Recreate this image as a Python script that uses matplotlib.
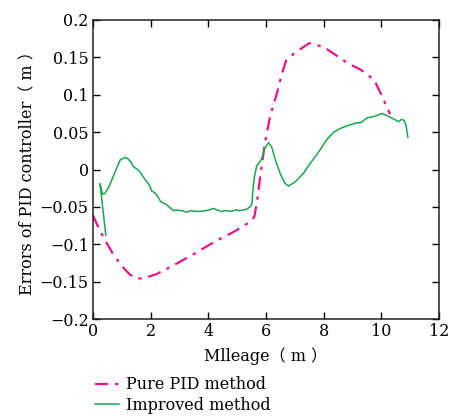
import numpy as np
import matplotlib.pyplot as plt

# Pure PID method
pid_x = [0.0, 0.2, 0.4, 0.7, 1.0, 1.3, 1.55, 1.8, 2.2, 2.8, 3.5, 4.2, 4.9, 5.45, 5.6, 5.7, 5.8, 5.97, 6.15, 6.38, 6.55, 6.7, 7.0, 7.5, 8.0, 8.8, 9.3, 9.75, 10.0, 10.3]
pid_y = [-0.061, -0.078, -0.093, -0.113, -0.129, -0.141, -0.146, -0.145, -0.140, -0.128, -0.113, -0.097, -0.083, -0.070, -0.063, -0.040, -0.010, 0.037, 0.072, 0.102, 0.128, 0.146, 0.156, 0.169, 0.164, 0.143, 0.133, 0.120, 0.100, 0.074]

# Improved method
imp_x = [0.45, 0.25, 0.3, 0.35, 0.42, 0.55, 0.7, 0.85, 0.95, 1.1, 1.2, 1.3, 1.4, 1.55, 1.65, 1.75, 1.86, 1.95, 2.05, 2.15, 2.25, 2.35, 2.45, 2.56, 2.7, 2.8, 2.9, 3.0, 3.1, 3.25, 3.4, 3.55, 3.72, 3.9, 4.05, 4.18, 4.3, 4.45, 4.64, 4.8, 4.95, 5.1, 5.33, 5.45, 5.52, 5.54, 5.6, 5.68, 5.75, 5.86, 5.95, 6.09, 6.2, 6.35, 6.49, 6.65, 6.78, 7.0, 7.3, 7.53, 7.8, 8.11, 8.35, 8.58, 8.85, 9.1, 9.3, 9.5, 9.75, 10.02, 10.2, 10.4, 10.6, 10.7, 10.78, 10.85, 10.92]
imp_y = [-0.088, -0.019, -0.028, -0.033, -0.032, -0.024, -0.010, 0.004, 0.013, 0.016, 0.015, 0.011, 0.004, 0.000, -0.004, -0.010, -0.016, -0.020, -0.029, -0.031, -0.036, -0.043, -0.045, -0.047, -0.052, -0.055, -0.054, -0.055, -0.055, -0.057, -0.055, -0.056, -0.056, -0.055, -0.054, -0.052, -0.054, -0.056, -0.055, -0.056, -0.054, -0.055, -0.053, -0.050, -0.045, -0.030, -0.010, 0.005, 0.008, 0.015, 0.028, 0.036, 0.030, 0.010, -0.005, -0.018, -0.022, -0.017, -0.005, 0.008, 0.022, 0.040, 0.050, 0.055, 0.059, 0.062, 0.063, 0.069, 0.071, 0.075, 0.072, 0.068, 0.064, 0.067, 0.066, 0.060, 0.043]

plt.rcParams['font.family'] = ['DejaVu Serif', 'Noto Sans CJK SC']
plt.rcParams['font.size'] = 11.5
plt.rcParams['axes.unicode_minus'] = True

fig = plt.figure(figsize=(4.55, 4.16), dpi=100)
ax = fig.add_axes([0.204, 0.233, 0.761, 0.719])

ax.plot(pid_x, pid_y, color='#e8138a', lw=1.6, dashes=(6, 3, 1.5, 3), label='Pure PID method')
ax.plot(imp_x, imp_y, color='#1aa64e', lw=1.1, label='Improved method')

ax.set_xlim(0, 12)
ax.set_ylim(-0.2, 0.2)
ax.set_xticks(np.arange(0, 13, 2))
ax.set_yticks([-0.2, -0.15, -0.1, -0.05, 0, 0.05, 0.1, 0.15, 0.2])
ax.set_yticklabels(['−0.2', '−0.15', '−0.1', '−0.05', '0', '0.05', '0.1', '0.15', '0.2'])
ax.tick_params(direction='in', top=True, right=True, length=5, width=1, pad=3)
for s in ax.spines.values():
    s.set_linewidth(1.1)
    s.set_color('#222222')

ax.set_xlabel('Mlleage（ m ）', labelpad=5)
ax.set_ylabel('Errors of PID controller（ m ）', labelpad=2)

ax.legend(loc='upper left', bbox_to_anchor=(-0.012, -0.17), frameon=False,
          handlelength=1.5, handletextpad=0.45, labelspacing=0.2, borderaxespad=0)

fig.savefig('out.png', dpi=100)
